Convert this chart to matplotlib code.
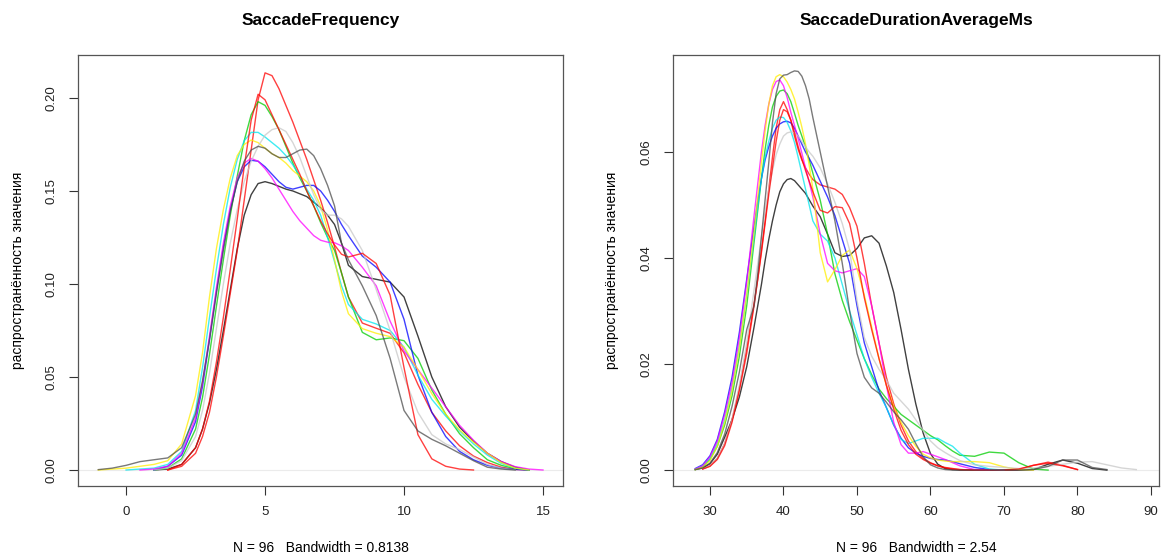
import numpy as np
import matplotlib
matplotlib.use('Agg')
import matplotlib.pyplot as plt

plt.rcParams['font.family'] = ['Liberation Sans', 'DejaVu Sans']

nan = np.nan

# ---- SaccadeFrequency: density curves ----
freq_x = [-1, -0.5, 0, 0.5, 1, 1.5, 2, 2.5,
          2.75, 3, 3.25, 3.5, 3.75, 4, 4.25, 4.5, 4.75, 5, 5.25, 5.5, 5.75, 6,
          6.25, 6.5, 6.75, 7, 7.25, 7.5, 7.75, 8,
          8.5, 9, 9.5, 10, 10.5, 11, 11.5, 12, 12.5, 13, 13.5, 14, 14.5, 15]

freq_black = [nan, nan, nan, nan, 0.0, 0.0005, 0.003, 0.012,
              0.022, 0.036, 0.054, 0.075, 0.097, 0.119, 0.137, 0.148, 0.154, 0.155, 0.154, 0.1525, 0.151, 0.150,
              0.1485, 0.147, 0.144, 0.141, 0.137, 0.132, 0.122, 0.110,
              0.104, 0.1025, 0.101, 0.093, 0.072, 0.050, 0.034, 0.023, 0.0155, 0.009, 0.0045, 0.0015, 0.0, nan]
freq_darkgray = [0.0002, 0.001, 0.0025, 0.0045, 0.0055, 0.0065, 0.012, 0.030,
                 0.048, 0.070, 0.095, 0.118, 0.139, 0.155, 0.166, 0.172, 0.174, 0.173, 0.170, 0.168, 0.168, 0.170,
                 0.172, 0.1725, 0.169, 0.162, 0.153, 0.142, 0.122, 0.113,
                 0.099, 0.083, 0.060, 0.032, 0.021, 0.0165, 0.013, 0.009, 0.005, 0.0015, 0.0005, 0.0, nan, nan]
freq_red_a = [nan, nan, nan, nan, nan, 0.0, 0.002, 0.009,
              0.018, 0.031, 0.050, 0.072, 0.095, 0.118, 0.145, 0.172, 0.199, 0.2135, 0.212, 0.205, 0.196, 0.187,
              0.177, 0.167, 0.156, 0.145, 0.133, 0.120, 0.106, 0.093,
              0.079, 0.0762, 0.0735, 0.063, 0.046, 0.031, 0.021, 0.013, 0.0075, 0.004, 0.0015, 0.0003, 0.0, nan]
freq_red_b = [nan, nan, nan, nan, nan, 0.0, 0.003, 0.012,
              0.022, 0.037, 0.058, 0.082, 0.108, 0.135, 0.163, 0.188, 0.202, 0.199, 0.191, 0.183, 0.175, 0.167,
              0.159, 0.150, 0.142, 0.134, 0.127, 0.121, 0.116, 0.1145,
              0.1165, 0.111, 0.094, 0.055, 0.019, 0.006, 0.002, 0.0005, 0.0, nan, nan, nan, nan, nan]
freq_green = [nan, nan, nan, nan, 0.0, 0.001, 0.006, 0.022,
              0.039, 0.062, 0.088, 0.113, 0.137, 0.158, 0.177, 0.191, 0.198, 0.196, 0.190, 0.183, 0.174, 0.165,
              0.157, 0.150, 0.142, 0.133, 0.125, 0.118, 0.106, 0.093,
              0.074, 0.070, 0.071, 0.0695, 0.060, 0.043, 0.030, 0.0195, 0.012, 0.0055, 0.0025, 0.0007, 0.0, nan]
freq_blue = [nan, nan, nan, nan, 0.0, 0.002, 0.008, 0.026,
             0.045, 0.070, 0.096, 0.120, 0.140, 0.155, 0.163, 0.1665, 0.166, 0.163, 0.159, 0.155, 0.152, 0.151,
             0.152, 0.153, 0.153, 0.150, 0.145, 0.139, 0.132, 0.126,
             0.115, 0.109, 0.101, 0.081, 0.051, 0.031, 0.018, 0.010, 0.0055, 0.0025, 0.001, 0.0003, 0.0, nan]
freq_cyan = [nan, nan, 0.0, 0.0005, 0.001, 0.003, 0.010, 0.032,
             0.055, 0.082, 0.108, 0.132, 0.152, 0.167, 0.177, 0.1815, 0.1815, 0.179, 0.176, 0.173, 0.169, 0.164,
             0.158, 0.151, 0.145, 0.137, 0.125, 0.112, 0.099, 0.089,
             0.081, 0.0785, 0.075, 0.066, 0.051, 0.038, 0.029, 0.021, 0.014, 0.008, 0.0035, 0.001, 0.0, nan]
freq_magenta = [nan, nan, nan, 0.0, 0.0005, 0.002, 0.009, 0.028,
                0.047, 0.072, 0.098, 0.122, 0.142, 0.157, 0.165, 0.1675, 0.166, 0.162, 0.157, 0.151, 0.145, 0.139,
                0.134, 0.130, 0.126, 0.1235, 0.1225, 0.1222, 0.1205, 0.118,
                0.109, 0.099, 0.080, 0.064, 0.054, 0.044, 0.034, 0.024, 0.016, 0.009, 0.0045, 0.0018, 0.0005, 0.0]
freq_yellow = [0.0, 0.0005, 0.001, 0.002, 0.003, 0.005, 0.014, 0.040,
               0.063, 0.093, 0.119, 0.140, 0.157, 0.169, 0.175, 0.1774, 0.176, 0.173, 0.170, 0.168, 0.165, 0.161,
               0.158, 0.155, 0.150, 0.142, 0.129, 0.113, 0.096, 0.084,
               0.076, 0.0735, 0.0717, 0.066, 0.054, 0.041, 0.030, 0.0215, 0.015, 0.009, 0.004, 0.001, 0.0, nan]
freq_lightgray = [nan, nan, nan, nan, 0.0, 0.001, 0.005, 0.018,
                  0.032, 0.052, 0.076, 0.100, 0.122, 0.140, 0.155, 0.166, 0.174, 0.180, 0.183, 0.184, 0.182, 0.176,
                  0.168, 0.158, 0.148, 0.140, 0.137, 0.137, 0.135, 0.131,
                  0.118, 0.097, 0.075, 0.050, 0.031, 0.019, 0.014, 0.011, 0.007, 0.003, 0.001, 0.0, nan, nan]

# ---- SaccadeDurationAverageMs ----
dur_x = [27, 28, 29, 30, 31, 32, 33, 34, 35,
         36, 36.5, 37, 37.5, 38, 38.5, 39, 39.5, 40, 40.5, 41, 41.5, 42, 42.5, 43, 43.5, 44,
         45, 46, 47, 48, 49, 50, 51, 52, 53, 54, 55, 56, 57, 58, 59, 60, 61, 62, 63, 64,
         66, 68, 70, 72, 74, 76, 78, 80, 82, 84, 86, 88]

dur_black = [nan, 0.0001, 0.0004, 0.0012, 0.003, 0.0062, 0.0095, 0.0138, 0.0195,
             0.027, 0.031, 0.035, 0.0395, 0.0435, 0.047, 0.050, 0.0525, 0.054, 0.0548, 0.055, 0.0546, 0.0538, 0.053, 0.0522, 0.051, 0.0498,
             0.0478, 0.0445, 0.041, 0.0403, 0.0405, 0.0418, 0.0438, 0.0442, 0.0428, 0.0385, 0.0335, 0.0265, 0.019, 0.0125, 0.007, 0.0031, 0.0011, 0.0003, 0.0001, 0.0,
             0.0, 0.0, 0.0, 0.0, 0.0001, 0.0011, 0.0019, 0.0013, 0.0003, 0.0, nan, nan]
dur_darkgray = [nan, 0.0001, 0.0004, 0.0013, 0.0033, 0.0068, 0.012, 0.0185, 0.0265,
                0.031, 0.037, 0.044, 0.051, 0.058, 0.0655, 0.071, 0.0738, 0.0745, 0.0746, 0.075, 0.0753, 0.0752, 0.0743, 0.0725, 0.070, 0.0665,
                0.060, 0.0535, 0.047, 0.039, 0.030, 0.022, 0.0175, 0.0155, 0.0145, 0.0128, 0.011, 0.0095, 0.0077, 0.005, 0.0025, 0.001, 0.0004, 0.0001, 0.0, 0.0,
                0.0, 0.0, 0.0, 0.0, 0.0001, 0.0007, 0.0019, 0.0019, 0.0005, 0.0001, nan, nan]
dur_red_a = [nan, nan, 0.0002, 0.0008, 0.0022, 0.005, 0.0095, 0.0155, 0.023,
             0.0315, 0.036, 0.0415, 0.047, 0.053, 0.059, 0.0645, 0.068, 0.0695, 0.068, 0.066, 0.063, 0.0605, 0.0585, 0.057, 0.0558, 0.0548,
             0.0538, 0.0534, 0.053, 0.052, 0.0495, 0.046, 0.039, 0.031, 0.024, 0.0175, 0.0125, 0.0085, 0.0055, 0.0035, 0.0022, 0.0014, 0.0008, 0.0004, 0.0002, 0.0001,
             0.0, 0.0, 0.0, 0.0001, 0.0009, 0.0015, 0.0009, 0.0001, nan, nan, nan, nan]
dur_red_b = [nan, nan, 0.0002, 0.0007, 0.002, 0.0046, 0.009, 0.015, 0.022,
             0.031, 0.036, 0.041, 0.0465, 0.052, 0.057, 0.062, 0.066, 0.068, 0.0676, 0.066, 0.0637, 0.061, 0.0587, 0.0565, 0.0545, 0.0525,
             0.049, 0.0485, 0.0497, 0.0495, 0.0465, 0.040, 0.0325, 0.0265, 0.021, 0.016, 0.0115, 0.0075, 0.0048, 0.003, 0.002, 0.0013, 0.0008, 0.0005, 0.0003, 0.0001,
             0.0, 0.0, 0.0, 0.0002, 0.0009, 0.0013, 0.0008, 0.0001, nan, nan, nan, nan]
dur_green = [nan, 0.0001, 0.0006, 0.002, 0.0045, 0.0085, 0.014, 0.0215, 0.031,
             0.043, 0.049, 0.055, 0.0605, 0.065, 0.0685, 0.0705, 0.0715, 0.0717, 0.071, 0.0695, 0.0673, 0.065, 0.063, 0.061, 0.0585, 0.056,
             0.0509, 0.0445, 0.037, 0.032, 0.028, 0.0245, 0.021, 0.018, 0.0153, 0.0135, 0.012, 0.0105, 0.0095, 0.0085, 0.0075, 0.0065, 0.0057, 0.0046, 0.0036, 0.0028,
             0.0026, 0.0034, 0.0032, 0.0014, 0.0002, 0.0, nan, nan, nan, nan, nan, nan]
dur_blue = [nan, 0.0003, 0.001, 0.0027, 0.0058, 0.011, 0.0175, 0.026, 0.036,
            0.046, 0.0507, 0.055, 0.0585, 0.061, 0.063, 0.0645, 0.0653, 0.0657, 0.0658, 0.0655, 0.0645, 0.063, 0.0615, 0.060, 0.0588, 0.0575,
            0.0545, 0.0515, 0.048, 0.0435, 0.039, 0.031, 0.024, 0.0195, 0.015, 0.0118, 0.0085, 0.006, 0.0042, 0.0032, 0.0026, 0.0022, 0.002, 0.0019, 0.0016, 0.0012,
            0.0005, 0.0001, 0.0, nan, nan, nan, nan, nan, nan, nan, nan, nan]
dur_cyan = [nan, 0.0002, 0.0008, 0.0022, 0.005, 0.0095, 0.0155, 0.0235, 0.033,
            0.044, 0.0497, 0.055, 0.059, 0.062, 0.0645, 0.066, 0.0666, 0.0665, 0.0656, 0.064, 0.0618, 0.059, 0.056, 0.053, 0.050, 0.047,
            0.0445, 0.0432, 0.040, 0.035, 0.030, 0.0255, 0.021, 0.0175, 0.0145, 0.0118, 0.0085, 0.0058, 0.005, 0.0055, 0.006, 0.006, 0.006, 0.0052, 0.0045, 0.0032,
            0.0011, 0.0002, 0.0, nan, nan, nan, nan, nan, nan, nan, nan, nan]
dur_magenta = [nan, 0.0002, 0.0008, 0.0025, 0.0055, 0.0105, 0.0165, 0.025, 0.0355,
               0.048, 0.054, 0.060, 0.065, 0.069, 0.0718, 0.0733, 0.0736, 0.0725, 0.0703, 0.0675, 0.065, 0.0625, 0.0598, 0.057, 0.0543, 0.0515,
               0.0445, 0.039, 0.0376, 0.0372, 0.0376, 0.038, 0.0365, 0.031, 0.024, 0.016, 0.009, 0.0048, 0.0032, 0.0032, 0.0035, 0.003, 0.0025, 0.002, 0.0014, 0.0008,
               0.0001, 0.0, nan, nan, nan, nan, nan, nan, nan, nan, nan, nan]
dur_yellow = [nan, 0.0001, 0.0005, 0.0018, 0.0045, 0.009, 0.015, 0.023, 0.033,
              0.045, 0.0515, 0.058, 0.064, 0.069, 0.0725, 0.0742, 0.0746, 0.0742, 0.0732, 0.0718, 0.070, 0.0675, 0.0647, 0.0615, 0.0575, 0.053,
              0.041, 0.0355, 0.0378, 0.0405, 0.0415, 0.038, 0.033, 0.027, 0.021, 0.016, 0.012, 0.009, 0.0065, 0.0045, 0.003, 0.0023, 0.0019, 0.0017, 0.0016, 0.0016,
              0.0016, 0.0014, 0.0006, 0.0001, 0.0, nan, nan, nan, nan, nan, nan, nan]
dur_lightgray = [nan, nan, 0.0002, 0.0008, 0.0022, 0.005, 0.0095, 0.016, 0.024,
                 0.034, 0.039, 0.044, 0.0487, 0.053, 0.0565, 0.0595, 0.0615, 0.063, 0.0636, 0.0638, 0.0636, 0.063, 0.062, 0.061, 0.060, 0.0592,
                 0.057, 0.054, 0.0505, 0.0465, 0.0415, 0.032, 0.025, 0.0215, 0.019, 0.017, 0.0145, 0.013, 0.0115, 0.0095, 0.0075, 0.0055, 0.0042, 0.0033, 0.0025, 0.0018,
                 0.001, 0.0007, 0.0005, 0.0003, 0.0004, 0.0007, 0.0011, 0.0015, 0.0016, 0.001, 0.0004, 0.0001]

colors = {'black': '#000000', 'darkgray': '#4d4d4d', 'red_a': '#ff0000', 'red_b': '#ff0000',
          'green': '#00cd00', 'blue': '#0000ff', 'cyan': '#00e5ee', 'magenta': '#ff00ff',
          'yellow': '#ffee00', 'lightgray': '#c8c8c8'}

freq_curves = [('black', freq_black), ('red_a', freq_red_a), ('green', freq_green), ('blue', freq_blue),
               ('cyan', freq_cyan), ('magenta', freq_magenta), ('yellow', freq_yellow),
               ('lightgray', freq_lightgray), ('red_b', freq_red_b), ('darkgray', freq_darkgray)]
dur_curves = [('black', dur_black), ('red_a', dur_red_a), ('green', dur_green), ('blue', dur_blue),
              ('cyan', dur_cyan), ('magenta', dur_magenta), ('yellow', dur_yellow),
              ('lightgray', dur_lightgray), ('red_b', dur_red_b), ('darkgray', dur_darkgray)]

W, H = 1168, 560
fig = plt.figure(figsize=(W / 100, H / 100), dpi=100)
ylabel = 'распространённость значения'


def panel(rect, xs, curves, title, note, xlim, ylim, xticks, yticks, ylab_x):
    l, t, r, b = rect
    ax = fig.add_axes([l / W, 1 - b / H, (r - l) / W, (b - t) / H])
    ax.axhline(0, color='#ebebeb', lw=0.8, zorder=0)
    for name, ys in curves:
        ax.plot(xs, ys, color=colors[name], lw=1.0, alpha=0.75)
    ax.set_xlim(*xlim)
    ax.set_ylim(*ylim)
    ax.set_xticks(xticks)
    ax.set_xticklabels([str(v) for v in xticks])
    ax.set_yticks(yticks)
    ax.set_yticklabels(['%.2f' % v for v in yticks], rotation=90, va='center')
    ax.tick_params(direction='out', length=6.5, width=0.8, color='#333333',
                   labelsize=9.5, pad=8, labelcolor='#222222')
    for s in ax.spines.values():
        s.set_color('#555555')
        s.set_linewidth(0.9)
    cx = (l + r) / 2 / W
    fig.text(cx, 1 - 20 / H, title, ha='center', va='center', fontsize=12.5, fontweight='bold')
    fig.text(cx, 1 - 548 / H, note, ha='center', va='center', fontsize=10)
    fig.text(ylab_x / W, 1 - (t + b) / 2 / H, ylabel, ha='center', va='center',
             rotation=90, fontsize=10)
    return ax


panel((78, 55, 563, 486), freq_x, freq_curves, 'SaccadeFrequency',
      'N = 96   Bandwidth = 0.8138', (-1.73, 15.72), (-0.0086, 0.2231),
      [0, 5, 10, 15], [0.0, 0.05, 0.10, 0.15, 0.20], 18)
panel((673, 55, 1159, 486), dur_x, dur_curves, 'SaccadeDurationAverageMs',
      'N = 96   Bandwidth = 2.54', (24.97, 91.09), (-0.003, 0.0783),
      [30, 40, 50, 60, 70, 80, 90], [0.0, 0.02, 0.04, 0.06], 612)

fig.savefig('out.png', dpi=100)
